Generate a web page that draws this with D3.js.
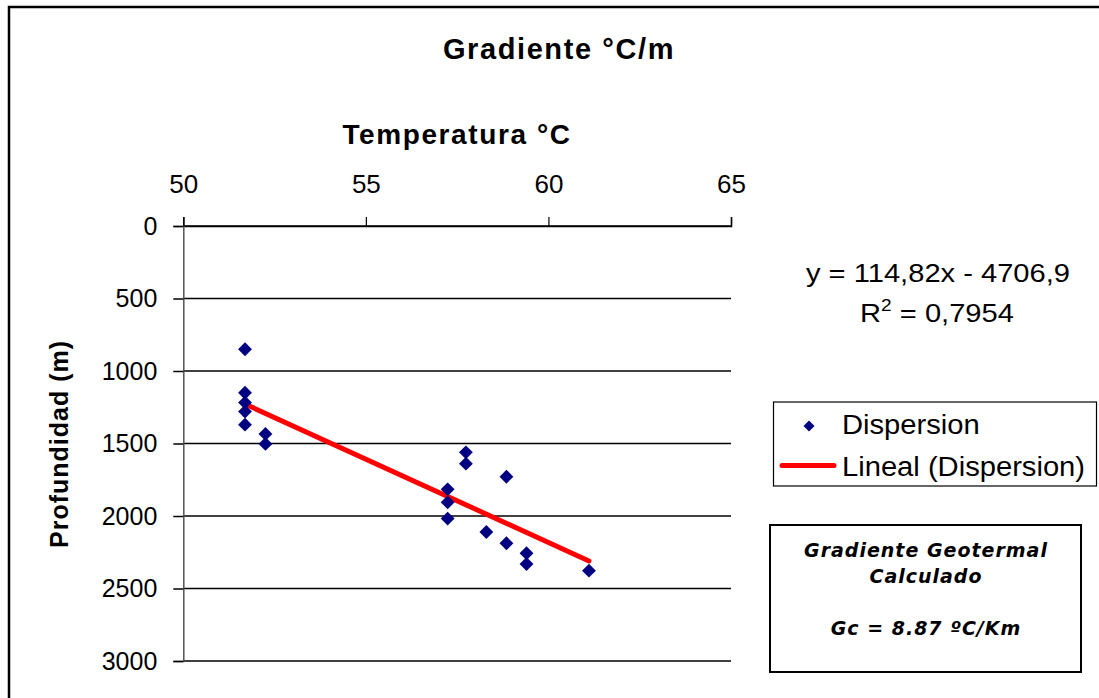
<!DOCTYPE html>
<html>
<head>
<meta charset="utf-8">
<script src="https://cdn.jsdelivr.net/npm/d3@7"></script>
<style>
  body { margin: 0; background: #fff; }
  svg { display: block; font-family: "Liberation Sans", Arial, sans-serif; }
</style>
</head>
<body>
<svg id="chart" width="1099" height="698"></svg>
<script>
// values
const temperatura = [51.69, 51.69, 51.69, 51.69, 51.69, 52.25, 52.25, 57.74, 57.74,
  58.85, 57.24, 57.24, 57.24, 58.30, 58.85, 59.40, 59.40, 61.11];
const profundidad = [850, 1150, 1218, 1280, 1370, 1434, 1503, 1561, 1639,
  1729, 1816, 1906, 2018, 2110, 2188, 2257, 2331, 2377];
const xTicks = [50, 55, 60, 65];
const yTicks = [0, 500, 1000, 1500, 2000, 2500, 3000];
const trendSlope = 114.82;
const trendIntercept = -4706.9;
const legendLabels = ["Dispersion", "Lineal (Dispersion)"];
const noteLines = ["Gradiente Geotermal", "Calculado", "", "Gc = 8.87 ºC/Km"];

const svg = d3.select("#chart");

// outer chart frame (runs off the right / bottom edge like the source)
svg.append("rect")
  .attr("x", 9).attr("y", 7)
  .attr("width", 1200).attr("height", 800)
  .attr("fill", "none")
  .attr("stroke", "#000")
  .attr("stroke-width", 2.5);

const x = d3.scaleLinear().domain([50, 65]).range([183.3, 731]);
const y = d3.scaleLinear().domain([0, 3000]).range([226, 661]);

// horizontal gridlines
svg.append("g")
  .selectAll("line")
  .data(yTicks)
  .enter()
  .append("line")
  .attr("x1", x(50)).attr("x2", x(65))
  .attr("y1", (d) => y(d)).attr("y2", (d) => y(d))
  .attr("stroke", "#000")
  .attr("stroke-width", 1.5);

// top x axis
const xAxis = svg.append("g")
  .attr("transform", `translate(0,${y(0)})`)
  .call(d3.axisTop(x).tickValues(xTicks).tickSize(9).tickPadding(24).tickFormat(d3.format("d")));
xAxis.select(".domain").attr("stroke", "#000").attr("stroke-width", 1.5);
xAxis.selectAll(".tick line").attr("stroke", "#000").attr("stroke-width", 1.2);
xAxis.selectAll(".tick text")
  .attr("font-size", 26)
  .attr("fill", "#000")
  .attr("font-family", "Liberation Sans, Arial, sans-serif");

// left y axis
const yAxis = svg.append("g")
  .attr("transform", `translate(${x(50)},0)`)
  .call(d3.axisLeft(y).tickValues(yTicks).tickSize(10).tickPadding(16).tickFormat(d3.format("d")));
yAxis.select(".domain").attr("stroke", "#555").attr("stroke-width", 1.5);
yAxis.selectAll(".tick line").attr("stroke", "#000").attr("stroke-width", 1.5);
yAxis.selectAll(".tick text")
  .attr("font-size", 25)
  .attr("fill", "#000")
  .attr("font-family", "Liberation Sans, Arial, sans-serif");

// titles
svg.append("text")
  .attr("x", 559).attr("y", 59)
  .attr("text-anchor", "middle")
  .attr("font-size", 29).attr("font-weight", "bold")
  .attr("letter-spacing", 1.6)
  .text("Gradiente °C/m");

svg.append("text")
  .attr("x", 457).attr("y", 144)
  .attr("text-anchor", "middle")
  .attr("font-size", 28).attr("font-weight", "bold")
  .attr("letter-spacing", 1.6)
  .text("Temperatura °C");

svg.append("text")
  .attr("transform", "translate(68,444) rotate(-90)")
  .attr("text-anchor", "middle")
  .attr("font-size", 25).attr("font-weight", "bold")
  .attr("letter-spacing", 1)
  .text("Profundidad (m)");

// trend line from the fitted equation
const trendX = d3.extent(temperatura);
svg.append("line")
  .attr("x1", x(trendX[0])).attr("y1", y(trendSlope * trendX[0] + trendIntercept))
  .attr("x2", x(trendX[1])).attr("y2", y(trendSlope * trendX[1] + trendIntercept))
  .attr("stroke", "#ff0000")
  .attr("stroke-width", 5)
  .attr("stroke-linecap", "round");

// scatter points (diamonds)
const diamond = d3.symbol().type(d3.symbolSquare).size(96);
svg.append("g")
  .selectAll("path")
  .data(temperatura.map((t, i) => ({ t: t, p: profundidad[i] })))
  .enter()
  .append("path")
  .attr("d", diamond)
  .attr("transform", (d) => `translate(${x(d.t)},${y(d.p)}) rotate(45)`)
  .attr("fill", "#000080");

// equation text (source text is a little wider than tall)
svg.append("text")
  .attr("transform", "translate(938,282) scale(1.12,1)")
  .attr("text-anchor", "middle")
  .attr("font-size", 26)
  .text("y = 114,82x - 4706,9");

const r2 = svg.append("text")
  .attr("transform", "translate(937,322) scale(1.12,1)")
  .attr("text-anchor", "middle")
  .attr("font-size", 26);
r2.append("tspan").text("R");
r2.append("tspan").attr("font-size", 17).attr("dy", -11).text("2");
r2.append("tspan").attr("dy", 11).text(" = 0,7954");

// legend
const legend = svg.append("g");
legend.append("rect")
  .attr("x", 773.5).attr("y", 402)
  .attr("width", 323).attr("height", 84)
  .attr("fill", "#fff")
  .attr("stroke", "#000").attr("stroke-width", 1.2);
legend.append("path")
  .attr("d", d3.symbol().type(d3.symbolSquare).size(60))
  .attr("transform", "translate(809,426) rotate(45)")
  .attr("fill", "#000080");
legend.append("line")
  .attr("x1", 782).attr("x2", 834)
  .attr("y1", 465.5).attr("y2", 465.5)
  .attr("stroke", "#ff0000").attr("stroke-width", 5)
  .attr("stroke-linecap", "round");
legend.selectAll("text.leg")
  .data(legendLabels)
  .enter()
  .append("text")
  .attr("class", "leg")
  .attr("transform", (d, i) => `translate(842,${434 + i * 42}) scale(1.08,1)`)
  .attr("font-size", 27)
  .text((d) => d);

// note box
svg.append("rect")
  .attr("x", 770).attr("y", 525)
  .attr("width", 311).attr("height", 147)
  .attr("fill", "#fff")
  .attr("stroke", "#000").attr("stroke-width", 2);
svg.append("g")
  .selectAll("text")
  .data(noteLines)
  .enter()
  .append("text")
  .attr("x", 926)
  .attr("y", (d, i) => 557 + i * 26)
  .attr("text-anchor", "middle")
  .attr("font-family", "DejaVu Sans, Verdana, sans-serif")
  .attr("font-size", 19)
  .attr("font-weight", "bold")
  .attr("font-style", "italic")
  .attr("letter-spacing", 1)
  .text((d) => d);
</script>
</body>
</html>
